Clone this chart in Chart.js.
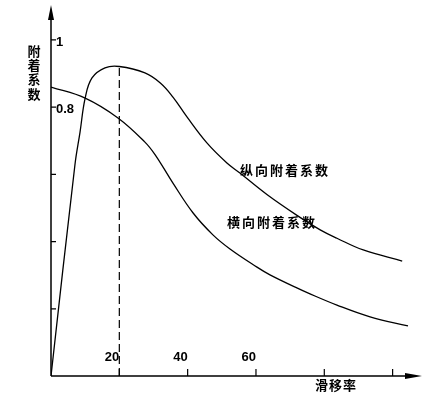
<!DOCTYPE html>
<html>
<head>
<meta charset="utf-8">
<script src="https://cdn.jsdelivr.net/npm/chart.js@4"></script>
<style>
  html, body { margin: 0; padding: 0; background: #fff; }
  #wrap { width: 447px; height: 397px; }
</style>
</head>
<body>
<div id="wrap"><canvas id="adhesionChart" width="447" height="397"></canvas></div>
<script>
"use strict";

// 纵向附着系数 (slip %, coefficient)
const slipLong = [0, 7, 8.5, 10, 12, 15.8, 20, 27.5, 32, 35.7, 39.8, 45.7, 51.5, 55.3, 63.2, 72, 78.8, 83.7, 91.4, 102.8];
const muLong = [0, 0.628, 0.726, 0.827, 0.887, 0.917, 0.921, 0.902, 0.872, 0.830, 0.771, 0.693, 0.634, 0.604, 0.540, 0.478, 0.435, 0.410, 0.375, 0.342];

// 横向附着系数
const slipLat = [0, 10, 19.6, 27.5, 30.5, 35.7, 41.6, 47.4, 52.4, 60.3, 64.1, 72, 75, 83.7, 93.4, 104.5];
const muLat = [0.860, 0.827, 0.768, 0.696, 0.658, 0.574, 0.485, 0.420, 0.378, 0.324, 0.301, 0.262, 0.248, 0.211, 0.176, 0.149];

// peak marker (dashed)
const peakSlip = [20, 20];
const peakMu = [0, 0.921];

// axes
const xTicks = [20, 40, 60, 80, 100];
const xTickLabels = ['20', '40', '60', '', ''];
const yTicks = [0.2, 0.4, 0.6, 0.8, 1];
const yTickLabels = ['', '', '', '0.8', '1'];
const xTitle = '滑移率';
const yTitle = ['附', '着', '系', '数'];
const curveNames = ['纵向附着系数', '横向附着系数'];

function toPoints(xs, ys) {
  return xs.map(function(v, i) { return {x: v, y: ys[i]}; });
}

const cjk = '"Noto Sans CJK SC", "Noto Sans CJK JP", sans-serif';

// 矢印つきの軸・目盛り・文字
const axisPlugin = {
  id: 'axisPlugin',
  afterDatasetsDraw(chart) {
    const ctx = chart.ctx;
    const x = chart.scales.x, y = chart.scales.y;
    const x0 = x.getPixelForValue(0), y0 = y.getPixelForValue(0);
    const xEnd = x.right, yTop = y.top;
    ctx.save();
    ctx.strokeStyle = '#000';
    ctx.fillStyle = '#000';
    ctx.lineWidth = 1.5;

    ctx.beginPath();
    ctx.moveTo(x0, y0); ctx.lineTo(x0, yTop + 10);
    ctx.moveTo(x0, y0); ctx.lineTo(xEnd - 10, y0);
    ctx.stroke();

    // arrow heads
    ctx.beginPath();
    ctx.moveTo(x0, yTop); ctx.lineTo(x0 - 3, yTop + 15); ctx.lineTo(x0 + 3, yTop + 15); ctx.closePath();
    ctx.fill();
    ctx.beginPath();
    ctx.moveTo(xEnd, y0); ctx.lineTo(xEnd - 17, y0 - 3); ctx.lineTo(xEnd - 17, y0 + 3); ctx.closePath();
    ctx.fill();

    // tick marks
    ctx.lineWidth = 1.2;
    ctx.beginPath();
    xTicks.forEach(function(v) {
      const px = x.getPixelForValue(v);
      ctx.moveTo(px, y0); ctx.lineTo(px, y0 - 7);
    });
    yTicks.forEach(function(v) {
      const py = y.getPixelForValue(v);
      ctx.moveTo(x0, py); ctx.lineTo(x0 + 5, py);
    });
    ctx.stroke();

    // tick labels
    ctx.font = 'bold 13px "Liberation Sans", Arial, sans-serif';
    ctx.textAlign = 'right';
    ctx.textBaseline = 'middle';
    xTicks.forEach(function(v, i) {
      if (xTickLabels[i]) ctx.fillText(xTickLabels[i], x.getPixelForValue(v), y0 - 19);
    });
    ctx.textAlign = 'left';
    yTicks.forEach(function(v, i) {
      if (yTickLabels[i]) ctx.fillText(yTickLabels[i], x0 + 5, y.getPixelForValue(v) + 2);
    });

    // titles
    ctx.font = 'bold 13px ' + cjk;
    ctx.textAlign = 'center';
    yTitle.forEach(function(ch, i) {
      ctx.fillText(ch, x0 - 17, y.getPixelForValue(1) + 11 + i * 14.3);
    });
    ctx.letterSpacing = '1px';
    ctx.textAlign = 'left';
    ctx.fillText(xTitle, x.getPixelForValue(77.3), y0 + 9);

    // curve names
    ctx.letterSpacing = '2px';
    ctx.fillText(curveNames[0], x.getPixelForValue(55.3), y.getPixelForValue(0.613));
    ctx.fillText(curveNames[1], x.getPixelForValue(51.5), y.getPixelForValue(0.458));
    ctx.restore();
  }
};

const ctx = document.getElementById('adhesionChart').getContext('2d');
new Chart(ctx, {
  type: 'line',
  data: {
    datasets: [
      {
        label: curveNames[0],
        data: toPoints(slipLong, muLong),
        borderColor: '#000',
        borderWidth: 1.3,
        pointRadius: 0,
        tension: 0.4
      },
      {
        label: curveNames[1],
        data: toPoints(slipLat, muLat),
        borderColor: '#000',
        borderWidth: 1.3,
        pointRadius: 0,
        tension: 0.4
      },
      {
        label: 'peak',
        data: toPoints(peakSlip, peakMu),
        borderColor: '#000',
        borderWidth: 1.2,
        borderDash: [8, 4],
        pointRadius: 0
      }
    ]
  },
  options: {
    responsive: false,
    devicePixelRatio: 1,
    animation: false,
    events: [],
    layout: { padding: { left: 51, right: 25, top: 5, bottom: 21 } },
    plugins: {
      legend: { display: false },
      tooltip: { enabled: false }
    },
    scales: {
      x: { type: 'linear', min: 0, max: 108.6, display: false },
      y: { type: 'linear', min: 0, max: 1.104, display: false }
    }
  },
  plugins: [axisPlugin]
});
</script>
</body>
</html>
